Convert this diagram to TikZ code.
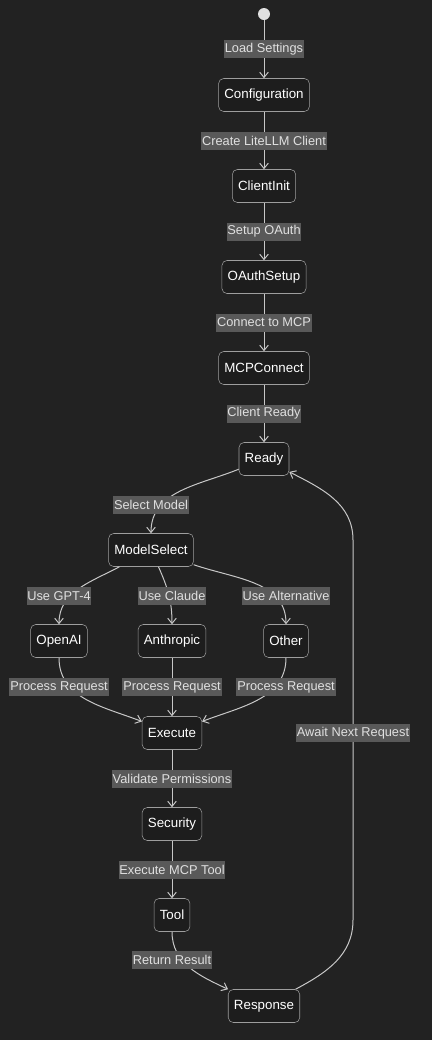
\documentclass[tikz,border=0pt]{standalone}
\usepackage{fontspec}
\setmainfont{Liberation Sans}
\usetikzlibrary{arrows.meta,positioning}

\definecolor{bgdark}{HTML}{222222}
\definecolor{statefill}{HTML}{1D1D1D}
\definecolor{stateborder}{HTML}{9E9E9E}
\definecolor{linegray}{HTML}{C8C8C8}
\definecolor{labelbg}{HTML}{595959}
\definecolor{labeltxt}{HTML}{E0E0E0}

\begin{document}
\begin{tikzpicture}[x=0.75pt, y=-0.75pt, arrow/.style = {draw=linegray, line width=0.75pt, -{Straight Barb[length=4pt,width=6.5pt]}}, node distance=68.25pt]
	\tikzset{state/.style={draw=stateborder, fill=statefill, rounded corners=3.75pt, text=white, font=\fontsize{10pt}{12pt}\selectfont, minimum height=24.75pt, inner xsep=4.3pt}}
	\tikzset{edgelbl/.style={fill=labelbg, text=labeltxt, font=\fontsize{9.6pt}{12pt}\selectfont, inner xsep=0.6pt, inner ysep=0pt, minimum height=13.5pt}}

	% background
	\fill[bgdark] (0,0) rectangle (432,1040);
	\useasboundingbox (0,0) rectangle (432,1040);

	% start
	\node[circle, fill=labeltxt, minimum size=9pt, inner sep=0pt] (start) at (264,14) {};

	% setup chain
	\node[state, below of=start, node distance=60.75pt] (config) {Configuration};
	\node[state, below of=config] (clientinit) {ClientInit};
	\node[state, below of=clientinit] (oauth) {OAuthSetup};
	\node[state, below of=oauth] (mcpconnect) {MCPConnect};
	\node[state, below of=mcpconnect] (ready) {Ready};

	% model choice
	\node[state] (modelselect) at (151,550) {ModelSelect};
	\node[state] (anthropic) at (172,641) {Anthropic};
	\node[state, left of=anthropic, node distance=84.75pt] (openai) {OpenAI};
	\node[state, right of=anthropic, node distance=85.5pt] (other) {Other};

	% run
	\node[state, below of=anthropic, node distance=69pt] (execute) {Execute};
	\node[state, below of=execute] (security) {Security};
	\node[state, below of=security] (tool) {Tool};
	\node[state] (response) at (264,1006) {Response};

	% loop points
	\coordinate (loopbot) at (353,920);
	\coordinate (looptop) at (353,540);

	% Arrows
	\draw [arrow] (start) -- node[edgelbl] {Load Settings} (config);
	\draw [arrow] (config) -- node[edgelbl] {Create LiteLLM Client} (clientinit);
	\draw [arrow] (clientinit) -- node[edgelbl] {Setup OAuth} (oauth);
	\draw [arrow] (oauth) -- node[edgelbl] {Connect to MCP} (mcpconnect);
	\draw [arrow] (mcpconnect) -- node[edgelbl] {Client Ready} (ready);

	\draw [arrow] (ready) to[out=202, in=90] (modelselect);
	\draw [arrow] (modelselect) to[out=208, in=90] (openai);
	\draw [arrow] (modelselect) to[out=-66, in=90] (anthropic);
	\draw [arrow] (modelselect) to[out=-19, in=90] (other);

	\draw [arrow] (openai) to[out=-90, in=159] (execute);
	\draw [arrow] (anthropic) -- node[edgelbl] {Process Request} (execute);
	\draw [arrow] (other) to[out=-90, in=21] (execute);

	\draw [arrow] (execute) -- node[edgelbl] {Validate Permissions} (security);
	\draw [arrow] (security) -- node[edgelbl] {Execute MCP Tool} (tool);
	\draw [arrow] (tool) to[out=-90, in=155] (response);
	\draw [arrow] (response) to[out=28, in=-90] (loopbot) -- (looptop) to[out=90, in=-27] (ready);

	% Labels on curved arrows
	\node[edgelbl] (lblselect) at (151,505) {Select Model};
	\node[edgelbl] (lblgpt) at (59,596) {Use GPT-4};
	\node[edgelbl] (lblclaude) at (172,596) {Use Claude};
	\node[edgelbl] (lblalt) at (286,596) {Use Alternative};
	\node[edgelbl] (lblprocopenai) at (59,687) {Process Request};
	\node[edgelbl] (lblprocother) at (286,687) {Process Request};
	\node[edgelbl] (lblreturn) at (172,960) {Return Result};
	\node[edgelbl] (lblawait) at (353,733) {Await Next Request};

\end{tikzpicture}
\end{document}
